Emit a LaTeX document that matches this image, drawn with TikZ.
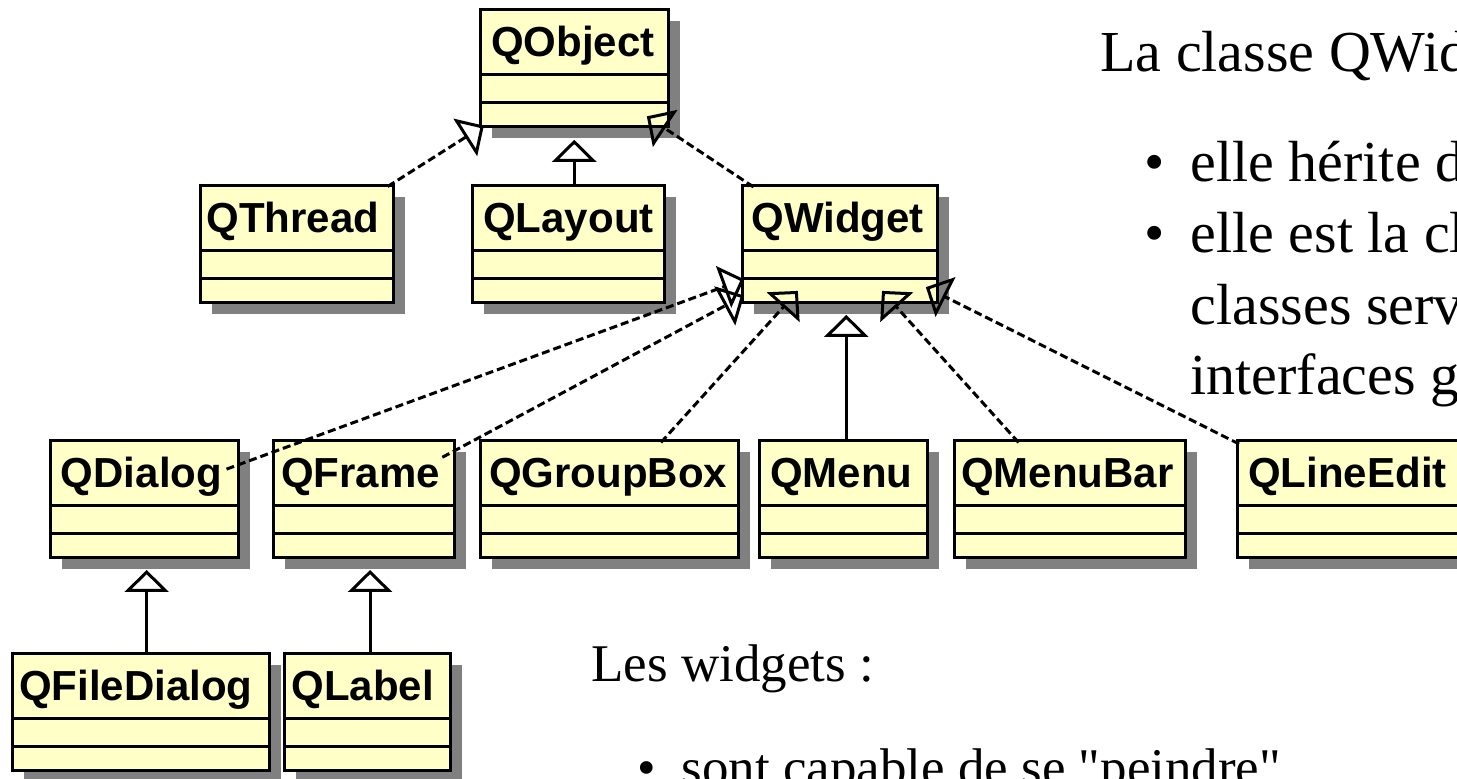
\documentclass[tikz,border=0pt]{standalone}
\usepackage{fontspec}
\setmainfont{Liberation Serif}
\newfontfamily\clsfamily{Liberation Sans}
\usetikzlibrary{arrows.meta}
\definecolor{clsyellow}{RGB}{255,255,200}
\definecolor{shadowgray}{RGB}{128,128,128}
\newcommand\clsfont{\clsfamily\bfseries\fontsize{21pt}{21pt}\selectfont}
\newcommand\bigtxt{\fontsize{29pt}{29pt}\selectfont}
\newcommand\midtxt{\fontsize{26.5pt}{26.5pt}\selectfont}
\tikzset{
  clsbox/.style={draw=black, line width=1.5pt, fill=clsyellow, rectangle,
    inner sep=0pt, outer sep=0pt, minimum height=58.25pt},
  clsline/.style={line width=1.5pt},
  clslabel/.style={font=\clsfont, inner sep=0pt, outer sep=0pt, anchor=base west},
  inh/.style={line width=1.5pt, -{Triangle[open, length=11pt, width=22pt]}},
  dep/.style={inh, dash pattern=on 4pt off 2pt},
  bigtext/.style={font=\bigtxt, inner sep=0pt, outer sep=0pt, anchor=base west},
  midtext/.style={font=\midtxt, inner sep=0pt, outer sep=0pt, anchor=base west},
}
% #1 name, #2 label, #3 left px, #4 top px, #5 width px, #6 text offset px
\newcommand\UMLcls[6]{%
  \fill[shadowgray] ({#3+11.5},{#4+11.5}) rectangle ({#3+#5+11.5},{#4+128});
  \node[clsbox, minimum width={#5*0.5pt}, anchor=north west] (#1) at (#3,#4) {};
  \draw[clsline] ([yshift=-32.5pt]#1.north west) -- ([yshift=-32.5pt]#1.north east);
  \draw[clsline] ([yshift=-46.5pt]#1.north west) -- ([yshift=-46.5pt]#1.north east);
  \node[clslabel] (#1-lbl) at ([xshift={#6*0.5pt}, yshift=-23.25pt]#1.north west) {#2};
}
\begin{document}
\begin{tikzpicture}[x=0.5pt, y=-0.5pt]
\useasboundingbox (0,0) rectangle (1457,779);
\fill[white] (0,0) rectangle (1457,779);
\clip (0,0) rectangle (1457,779);

\UMLcls{qobject}{QObject}{480.7}{10}{187.3}{10.3}
\UMLcls{qthread}{QThread}{200}{186}{193}{6.6}
\UMLcls{qlayout}{QLayout}{472}{186}{192.7}{11.3}
\UMLcls{qwidget}{QWidget}{742.7}{186}{194.6}{8.9}
\UMLcls{qdialog}{QDialog}{50.7}{441}{187.3}{10.3}
\UMLcls{qframe}{QFrame}{273.7}{441}{180.6}{7.3}
\UMLcls{qgroupbox}{QGroupBox}{480.7}{441}{258}{8.3}
\UMLcls{qmenu}{QMenu}{759.3}{441}{168}{10.7}
\UMLcls{qmenubar}{QMenuBar}{954}{441}{231.3}{7}
\UMLcls{qlineedit}{QLineEdit}{1237.3}{441}{225}{11}
\UMLcls{qfiledialog}{QFileDialog}{12}{654}{257.3}{7}
\UMLcls{qlabel}{QLabel}{284}{654}{166.7}{7.6}

% inheritance connectors
\draw[dep, shorten <=-0.5pt, shorten >=-0.8pt] (qthread) -- (qobject);
\draw[inh] ([xshift=2.95pt]qlayout.north) -- ([xshift=2.95pt, yshift=-6.65pt]qlayout.north |- qobject.south);
\draw[dep, shorten <=-0.9pt, shorten >=-9.2pt] (qwidget) -- (qobject);
\draw[dep, shorten <=-6.1pt, shorten >=-0.8pt] (qdialog) -- (qwidget);
\draw[dep, shorten <=-6.8pt, shorten >=-0.8pt] (qframe) -- (qwidget);
\draw[dep, shorten <=-1pt, shorten >=-7.8pt] (qgroupbox) -- (qwidget);
\draw[inh] ([xshift=1.5pt]qmenu.north) -- ([xshift=1.5pt, yshift=-6.2pt]qmenu.north |- qwidget.south);
\draw[dep, shorten <=-1pt, shorten >=-7.8pt] (qmenubar) -- (qwidget);
\draw[dep, shorten <=-1pt, shorten >=-6.4pt] (qlineedit) -- (qwidget);
\draw[inh] ([xshift=3pt]qfiledialog.north) -- ([xshift=3pt, yshift=-6.25pt]qfiledialog.north |- qdialog.south);
\draw[inh] ([xshift=1.35pt]qlabel.north) -- ([xshift=1.35pt, yshift=-6.25pt]qlabel.north |- qframe.south);

% text
\node[bigtext] (title) at (1100.3,72) {La classe QWid};
\node[bigtext] (bul1) at (1144,182) {\textbullet};
\node[bigtext] (item1) at (1190.5,182) {elle hérite d};
\node[bigtext] (bul2) at (1144,253) {\textbullet};
\node[bigtext] (item2) at (1190.5,253) {elle est la cl};
\node[bigtext] (item2b) at (1190.5,325) {classes serv};
\node[bigtext] (item2c) at (1190.5,395) {interfaces g};
\node[midtext] (wtitle) at (591.5,682) {Les widgets :};
\node[midtext] (bul3) at (637.5,786) {\textbullet};
\node[midtext] (witem1) at (681.5,786) {sont capable de se \textquotedbl peindre\textquotedbl};
\end{tikzpicture}
\end{document}
